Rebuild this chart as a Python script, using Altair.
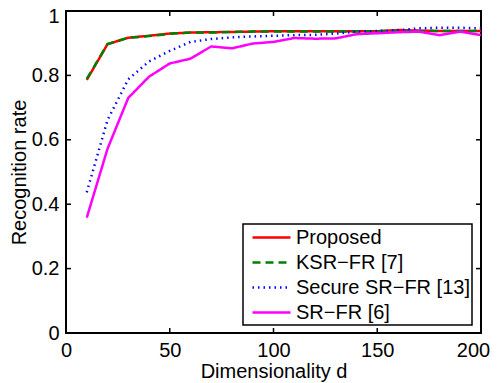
import altair as alt
import pandas as pd

dims = [10, 20, 30, 40, 50, 60, 70, 80, 90, 100, 110, 120, 130, 140, 150, 160, 170, 180, 190, 200]
proposed = [0.786, 0.897, 0.917, 0.923, 0.930, 0.933, 0.934, 0.935, 0.936, 0.937, 0.937, 0.937, 0.937, 0.937, 0.937, 0.941, 0.939, 0.938, 0.938, 0.938]
ksr = [0.789, 0.897, 0.917, 0.922, 0.929, 0.933, 0.933, 0.935, 0.936, 0.936, 0.936, 0.936, 0.936, 0.936, 0.937, 0.939, 0.938, 0.938, 0.938, 0.938]
secure = [0.437, 0.661, 0.788, 0.843, 0.876, 0.904, 0.913, 0.918, 0.921, 0.923, 0.925, 0.926, 0.930, 0.936, 0.938, 0.940, 0.946, 0.948, 0.948, 0.946]
srfr = [0.358, 0.572, 0.730, 0.796, 0.837, 0.852, 0.890, 0.884, 0.899, 0.904, 0.916, 0.914, 0.915, 0.928, 0.931, 0.934, 0.936, 0.925, 0.936, 0.925]

names = ["Proposed", "KSR\u2212FR [7]", "Secure SR\u2212FR [13]", "SR\u2212FR [6]"]
series = [proposed, ksr, secure, srfr]
colors = ["#ff0000", "#008000", "#0000ff", "#ff00ff"]
dashes = [[1, 0], [8, 5], [1.5, 4], [1, 0]]
widths = [2.5, 2.5, 1.2, 2.5]

x_ticks = [0, 50, 100, 150, 200]
y_ticks = [0, 0.2, 0.4, 0.6, 0.8, 1]

rows = []
for n, vals in zip(names, series):
    for d, v in zip(dims, vals):
        rows.append({"d": d, "rate": v, "series": n})
df = pd.DataFrame(rows)

W, H = 415, 322
FONT = "Liberation Sans"

xs = alt.Scale(domain=[0, 200], nice=False, zero=False)
ys = alt.Scale(domain=[0, 1], nice=False)

color_enc = alt.Color("series:N", scale=alt.Scale(domain=names, range=colors),
                      legend=alt.Legend(title=None, orient="none", legendX=177, legendY=213,
                                        symbolType="M-0.4,0H3.4", symbolSize=400,
                                        labelFontSize=20, labelFont=FONT, labelOffset=28,
                                        labelLimit=400, labelColor="black",
                                        rowPadding=3, padding=2, strokeColor="black",
                                        fillColor="white", symbolStrokeWidth=2))
dash_enc = alt.StrokeDash("series:N", scale=alt.Scale(domain=names, range=dashes), legend=None)
width_enc = alt.StrokeWidth("series:N", scale=alt.Scale(domain=names, range=widths), legend=None)

x_axis = alt.Axis(values=x_ticks, ticks=False, tickSize=0, domain=False, grid=False,
                  labelPadding=7, titlePadding=1, labelFlush=False,
                  labelOffset={"condition": {"test": "datum.value === 200", "value": -8}, "value": 0})
y_axis = alt.Axis(values=y_ticks, format="~g", ticks=False, tickSize=0, domain=False, grid=False,
                  labelPadding=7, titlePadding=2,
                  labelOffset={"condition": {"test": "datum.value === 1", "value": 5}, "value": 0})

X = alt.X("d:Q", scale=xs, title="Dimensionality d", axis=x_axis)
Y = alt.Y("rate:Q", scale=ys, title="Recognition rate", axis=y_axis)

layers = []
for n in names:
    layers.append(
        alt.Chart(df).transform_filter(alt.datum.series == n).mark_line().encode(
            x=X, y=Y,
            color=color_enc,
            strokeDash=dash_enc,
            strokeWidth=width_enc,
        )
    )

xt = pd.DataFrame({"d": x_ticks})
yt = pd.DataFrame({"rate": y_ticks})
tick_layers = [
    alt.Chart(xt).mark_rule(color="black", strokeWidth=1.5).encode(
        x=X, y=alt.value(H), y2=alt.value(H - 5)),
    alt.Chart(xt).mark_rule(color="black", strokeWidth=1.5).encode(
        x=X, y=alt.value(0), y2=alt.value(5)),
    alt.Chart(yt).mark_rule(color="black", strokeWidth=1.5).encode(
        y=Y, x=alt.value(0), x2=alt.value(5)),
    alt.Chart(yt).mark_rule(color="black", strokeWidth=1.5).encode(
        y=Y, x=alt.value(W), x2=alt.value(W - 5)),
]

chart = alt.layer(*(layers + tick_layers)).properties(
    width=W, height=H,
    autosize=alt.AutoSizeParams(type="none"),
    padding={"left": 58, "top": 3, "right": 10, "bottom": 50},
).configure_view(stroke="black", strokeWidth=2).configure_legend(
    strokeWidth=1.5
).configure_axis(
    labelFont=FONT, labelFontSize=20, labelColor="black",
    titleFont=FONT, titleFontSize=20, titleFontWeight="normal", titleColor="black",
)

chart.save("out.html", embed_options={"renderer": "svg", "actions": False})
